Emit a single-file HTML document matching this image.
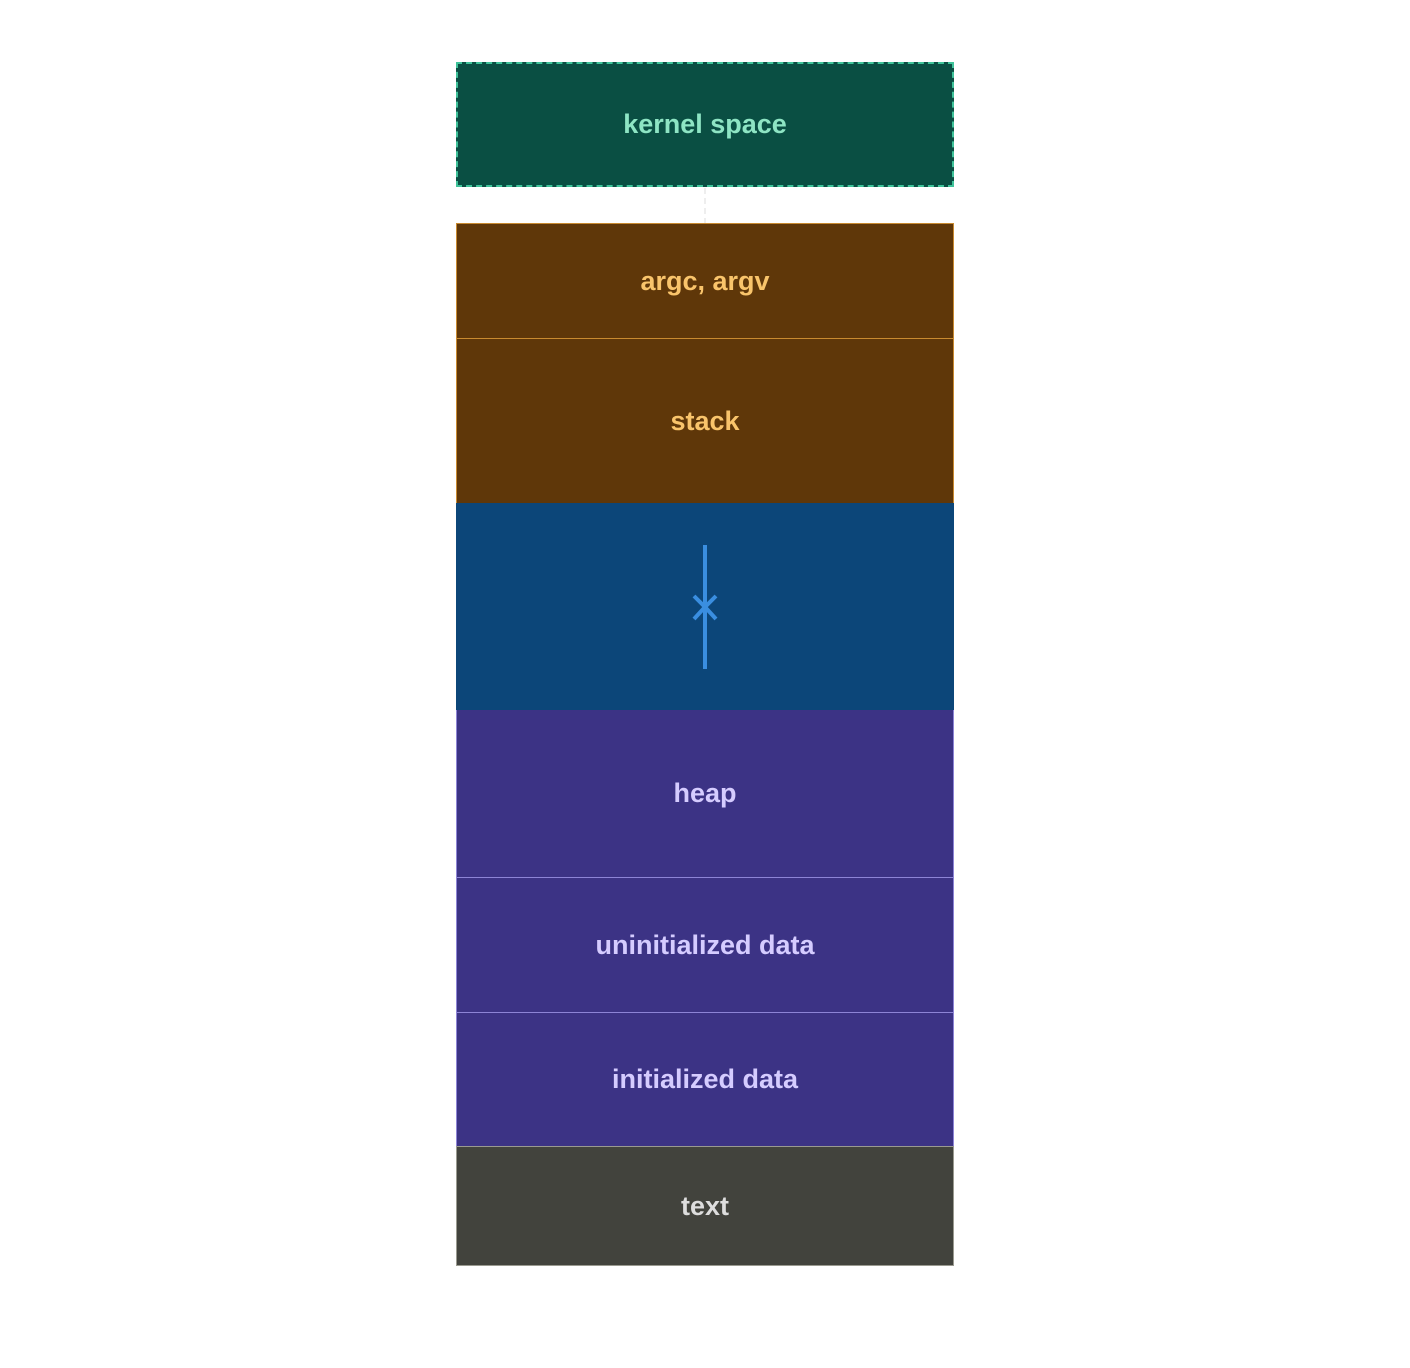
<!DOCTYPE html>
<html><head><style>
body{margin:0;width:1410px;height:1368px;background:#fff;position:relative;font-family:"Liberation Sans",sans-serif;}
.b{position:absolute;left:456px;width:498px;box-sizing:border-box;display:flex;align-items:center;justify-content:center;font-size:27px;font-weight:bold;}
</style></head><body>
<div class="b" style="top:62px;height:125px;background:#0a4f43;border:2px dashed #3fc39a;color:#8ee5c4;">kernel space</div>
<div style="position:absolute;left:704px;top:188px;height:36px;border-left:2px dashed #eee;"></div>
<div class="b" style="top:223px;height:116px;background:#5f3709;border:1px solid #c98a30;color:#f9c46b;">argc, argv</div>
<div class="b" style="top:338px;height:166px;background:#5f3709;border:1px solid #c98a30;color:#f9c46b;">stack</div>
<div class="b" style="top:503px;height:208px;background:#0c4679;border-bottom:1px dashed #9a9aa0;"></div>
<svg style="position:absolute;left:0;top:0" width="1410" height="1368"><g stroke="#3a8ee0" stroke-width="4" fill="none"><line x1="705" y1="545" x2="705" y2="669"/><polyline points="694,596 705,607 716,596"/><polyline points="694,619 705,607 716,619"/></g></svg>
<div class="b" style="top:710px;height:168px;background:#3c3385;border:1px solid #8d84d6;border-top:none;color:#d5ccff;">heap</div>
<div class="b" style="top:877px;height:136px;background:#3c3385;border:1px solid #8d84d6;color:#d5ccff;">uninitialized data</div>
<div class="b" style="top:1012px;height:135px;background:#3c3385;border:1px solid #8d84d6;color:#d5ccff;">initialized data</div>
<div class="b" style="top:1146px;height:120px;background:#42433d;border:1px solid #9a9a90;color:#ddd;">text</div>
</body></html>
